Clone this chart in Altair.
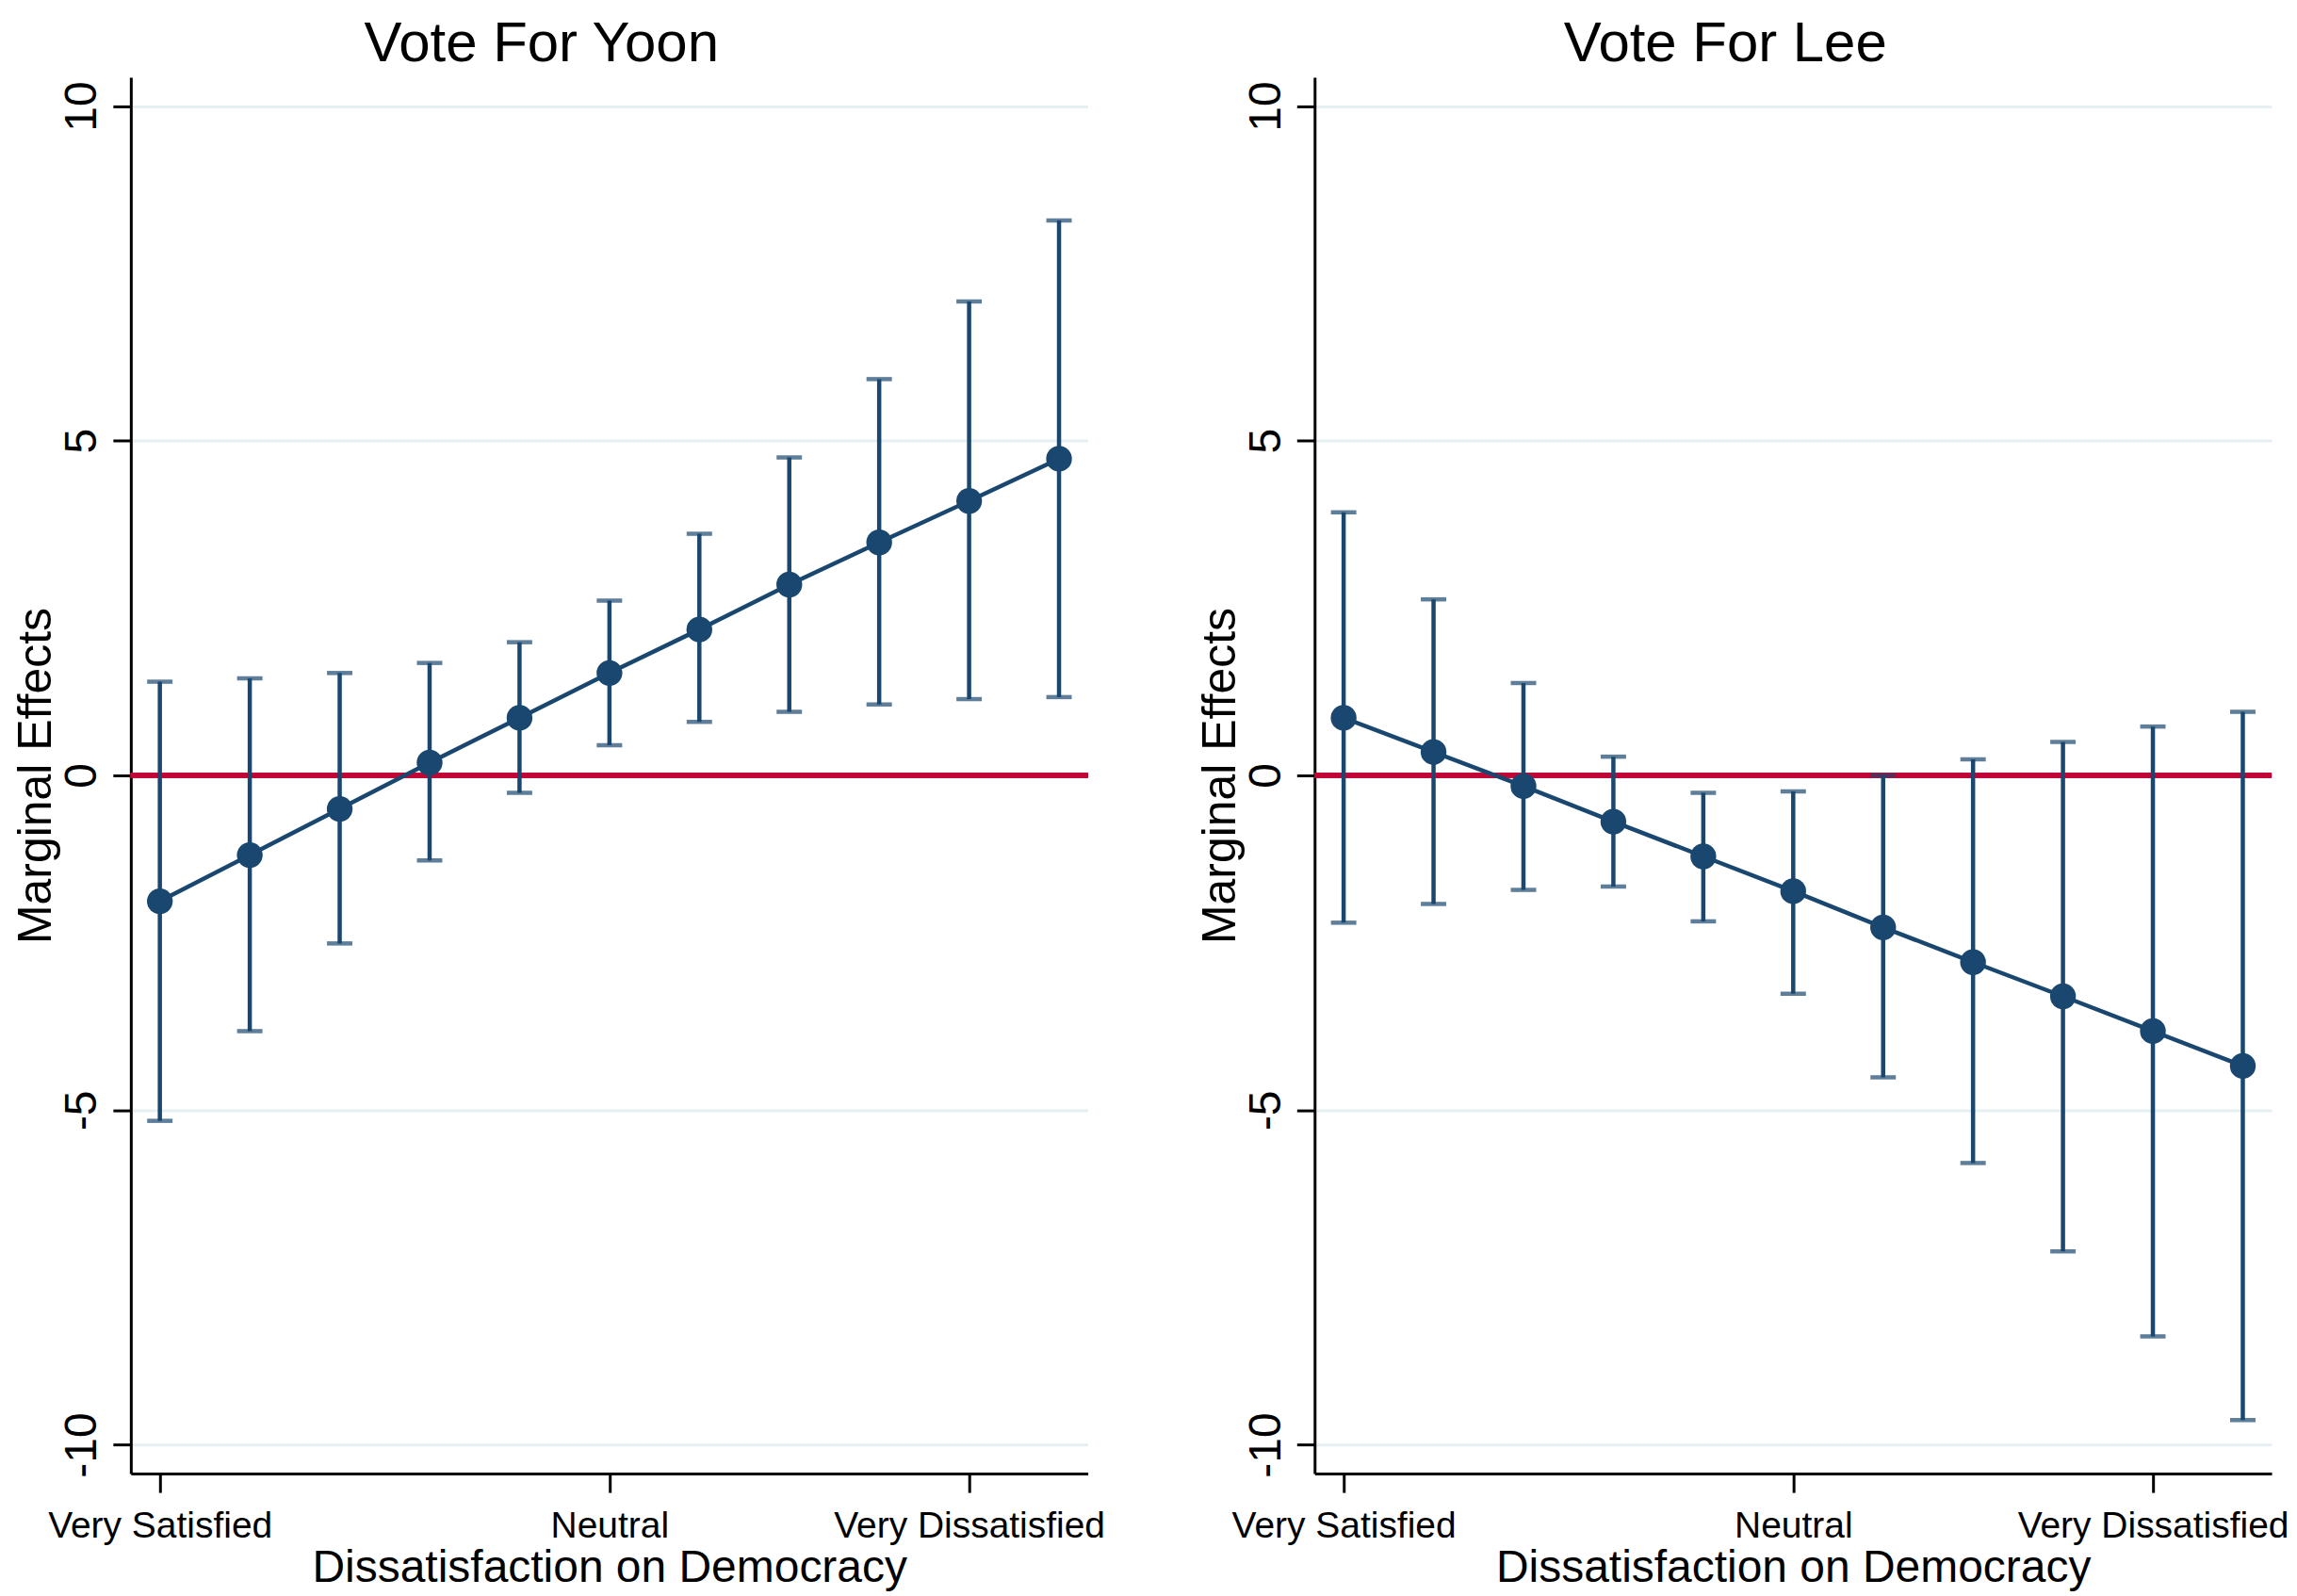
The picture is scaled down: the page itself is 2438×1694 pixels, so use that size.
import altair as alt
import pandas as pd

# ---- data ----
x_vals = list(range(11))
yoon_est = [-1.88, -1.19, -0.50, 0.19, 0.86, 1.53, 2.18, 2.85, 3.48, 4.10, 4.73]
yoon_hi = [1.40, 1.45, 1.53, 1.68, 1.99, 2.61, 3.61, 4.75, 5.92, 7.08, 8.29]
yoon_lo = [-5.16, -3.82, -2.51, -1.27, -0.26, 0.45, 0.80, 0.95, 1.06, 1.14, 1.17]
lee_est = [0.86, 0.35, -0.16, -0.69, -1.21, -1.73, -2.27, -2.79, -3.30, -3.82, -4.34]
lee_hi = [3.93, 2.63, 1.38, 0.28, -0.26, -0.24, 0.00, 0.24, 0.50, 0.73, 0.95]
lee_lo = [-2.20, -1.92, -1.71, -1.66, -2.18, -3.26, -4.51, -5.79, -7.11, -8.38, -9.63]
x_tick_vals = [0, 5, 9]
x_tick_labels = ["Very Satisfied", "Neutral", "Very Dissatisfied"]
y_tick_vals = [-10, -5, 0, 5, 10]
panel_titles = ["Vote For Yoon", "Vote For Lee"]
x_title = "Dissatisfaction on Democracy"
y_title = "Marginal Effects"

NAVY = "#1a476f"
RED = "#c10534"
GRID = "#e6eff1"
FONT = "Liberation Sans"

label_map = "{" + ",".join(f"'{v}':'{t}'" for v, t in zip(x_tick_vals, x_tick_labels)) + "}"

x_scale = alt.Scale(domain=[-0.323, 10.32], nice=False, zero=False)
y_scale = alt.Scale(domain=[-10.43, 10.43], nice=False, zero=False)

x_axis = alt.Axis(
    values=x_tick_vals,
    labelExpr=label_map + "[datum.value + '']",
    title=x_title,
    grid=False,
    tickSize=20,
    labelPadding=16,
    labelFontSize=39,
    labelLimit=0,
    titleFontSize=48,
    titlePadding=2,
    titleLimit=0,
    labelFlush=False,
    labelOverlap=False,
)
y_axis = alt.Axis(
    values=y_tick_vals,
    labelExpr="datum.value + ''",
    title=y_title,
    grid=True,
    labelAngle=270,
    labelAlign="center",
    labelBaseline="bottom",
    tickSize=19,
    labelPadding=8,
    labelFontSize=48,
    labelLimit=0,
    titleFontSize=50,
    titlePadding=0,
    titleLimit=0,
    labelFlush=False,
    labelOverlap=False,
)


def panel(est, lo, hi, title):
    df = pd.DataFrame({"x": x_vals, "est": est, "lo": lo, "hi": hi})
    base = alt.Chart(df)
    X = alt.X("x:Q", scale=x_scale, axis=x_axis)

    zero = base.mark_rule(color=RED, strokeWidth=4.5).encode(
        y=alt.datum(0, scale=y_scale, axis=y_axis)
    )
    bars = base.mark_rule(color=NAVY, strokeWidth=4.5).encode(
        x=X,
        y=alt.Y("lo:Q", scale=y_scale, axis=y_axis),
        y2="hi:Q",
    )
    cap_lo = base.mark_tick(color=NAVY, orient="horizontal", size=27, thickness=4.5).encode(
        x=X, y=alt.Y("lo:Q", scale=y_scale, axis=y_axis)
    )
    cap_hi = base.mark_tick(color=NAVY, orient="horizontal", size=27, thickness=4.5).encode(
        x=X, y=alt.Y("hi:Q", scale=y_scale, axis=y_axis)
    )
    line = base.mark_line(color=NAVY, strokeWidth=4.5).encode(
        x=X, y=alt.Y("est:Q", scale=y_scale, axis=y_axis)
    )
    pts = base.mark_circle(color=NAVY, size=750, opacity=1).encode(
        x=X, y=alt.Y("est:Q", scale=y_scale, axis=y_axis)
    )
    return alt.layer(zero, bars, cap_lo, cap_hi, line, pts).properties(
        width=1017,
        height=1484,
        title=alt.TitleParams(
            text=title,
            fontSize=60,
            font=FONT,
            fontWeight="normal",
            color="black",
            anchor="middle",
            frame="group",
            dx=-72,
            offset=-56,
            baseline="bottom",
        ),
    )


chart = (
    alt.hconcat(
        panel(yoon_est, yoon_lo, yoon_hi, panel_titles[0]),
        panel(lee_est, lee_lo, lee_hi, panel_titles[1]),
        spacing=241,
        bounds="flush",
    )
    .properties(
        padding={"left": 6, "top": 8, "right": 0, "bottom": 0},
        background="white",
    )
    .configure_view(stroke=None)
    .configure_axis(
        domainColor="black",
        domainWidth=3,
        tickColor="black",
        tickWidth=3,
        labelFont=FONT,
        titleFont=FONT,
        labelColor="black",
        titleColor="black",
        titleFontWeight="normal",
        gridColor=GRID,
        gridWidth=3,
    )
)

chart.save("out.html", embed_options={"renderer": "svg", "actions": False})
